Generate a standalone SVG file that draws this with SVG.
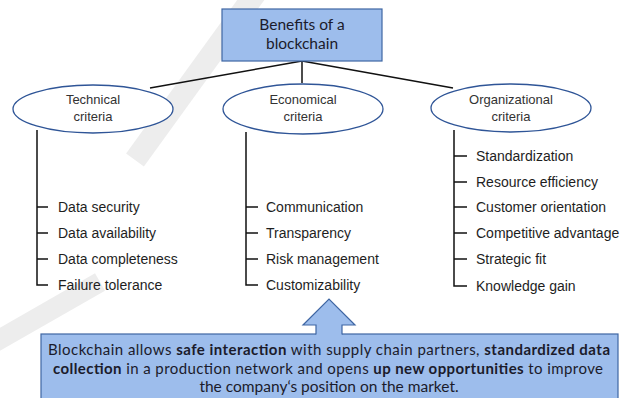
<svg xmlns="http://www.w3.org/2000/svg" width="630" height="398" viewBox="0 0 630 398">
<style>
.bg{fill:#ffffff}
.wm{fill:none;stroke:#ededed;stroke-linecap:butt}
.box{fill:#9dbdec;stroke:#3f66a3;stroke-width:1.2}
.ell{fill:#ffffff;stroke:#2f5597;stroke-width:1.3}
.con{fill:none;stroke:#111111;stroke-width:1.5}
.cal{font-family:Lato,"Open Sans","Liberation Sans",sans-serif;fill:#1b1b2b}
.t{font-family:"Liberation Sans",Arial,sans-serif;font-size:14px;fill:#1e1e1e}
.e{font-family:"Liberation Sans",Arial,sans-serif;font-size:13px;fill:#333333;text-anchor:middle}
.b{font-weight:bold}
</style>
<rect class="bg" x="0" y="0" width="630" height="398"/>
<g id="watermark">
<line class="wm" x1="258" y1="-10" x2="135" y2="160" stroke-width="22"/>
<line class="wm" x1="-10" y1="345" x2="100" y2="282" stroke-width="20"/>
</g>
<g id="connectors">
<line class="con" x1="302" y1="61" x2="150" y2="88"/>
<line class="con" x1="302" y1="61" x2="453" y2="88"/>
<line class="con" x1="302" y1="61" x2="302" y2="83"/>
<polyline class="con" points="37,130 37,285 48,285"/>
<line class="con" x1="37" y1="207" x2="48" y2="207"/>
<line class="con" x1="37" y1="233" x2="48" y2="233"/>
<line class="con" x1="37" y1="259" x2="48" y2="259"/>
<polyline class="con" points="246,132 246,285 258,285"/>
<line class="con" x1="246" y1="207" x2="258" y2="207"/>
<line class="con" x1="246" y1="233" x2="258" y2="233"/>
<line class="con" x1="246" y1="259" x2="258" y2="259"/>
<polyline class="con" points="454,130 454,286 467,286"/>
<line class="con" x1="454" y1="156" x2="467" y2="156"/>
<line class="con" x1="454" y1="182" x2="467" y2="182"/>
<line class="con" x1="454" y1="207" x2="467" y2="207"/>
<line class="con" x1="454" y1="233" x2="467" y2="233"/>
<line class="con" x1="454" y1="259" x2="467" y2="259"/>
</g>
<g id="root">
<rect class="box" x="222" y="9" width="160" height="52"/>
<text class="cal" x="302" y="30" font-size="15.5" text-anchor="middle">Benefits of a</text>
<text class="cal" x="302" y="49" font-size="15.5" text-anchor="middle">blockchain</text>
</g>
<g id="technical">
<ellipse class="ell" cx="93" cy="109" rx="80" ry="24"/>
<text class="e" x="93" y="104">Technical</text>
<text class="e" x="93" y="121">criteria</text>
</g>
<g id="economical">
<ellipse class="ell" cx="303" cy="109" rx="80" ry="25"/>
<text class="e" x="303" y="104">Economical</text>
<text class="e" x="303" y="121">criteria</text>
</g>
<g id="organizational">
<ellipse class="ell" cx="511" cy="108" rx="80" ry="24"/>
<text class="e" x="511" y="104">Organizational</text>
<text class="e" x="511" y="121">criteria</text>
</g>
<g id="technical-items">
<text class="t" x="58" y="212">Data security</text>
<text class="t" x="58" y="238">Data availability</text>
<text class="t" x="58" y="264">Data completeness</text>
<text class="t" x="58" y="290">Failure tolerance</text>
</g>
<g id="economical-items">
<text class="t" x="266" y="212">Communication</text>
<text class="t" x="266" y="238">Transparency</text>
<text class="t" x="266" y="264">Risk management</text>
<text class="t" x="266" y="290">Customizability</text>
</g>
<g id="organizational-items">
<text class="t" x="476" y="161">Standardization</text>
<text class="t" x="476" y="187">Resource efficiency</text>
<text class="t" x="476" y="212">Customer orientation</text>
<text class="t" x="476" y="238">Competitive advantage</text>
<text class="t" x="476" y="264">Strategic fit</text>
<text class="t" x="476" y="291">Knowledge gain</text>
</g>
<g id="summary">
<rect class="box" x="41" y="334" width="577" height="66"/>
<polygon points="329,299 355,325 342,325 342,335.5 316,335.5 316,325 303,325" fill="#9dbdec"/>
<polyline points="316,334.6 316,325 303,325 329,299 355,325 342,325 342,334.6" fill="none" stroke="#3f66a3" stroke-width="1.2"/>
<text class="cal" x="329" y="355" font-size="15" text-anchor="middle" textLength="562">Blockchain allows <tspan class="b">safe interaction</tspan> with supply chain partners, <tspan class="b">standardized data</tspan></text>
<text class="cal" x="328" y="374" font-size="15" text-anchor="middle" textLength="550">
<tspan class="b">collection</tspan> in a production network and opens <tspan class="b">up new opportunities</tspan> to improve</text>
<text class="cal" x="329" y="392" font-size="15.5" text-anchor="middle">the company‘s position on the market.</text>
</g>
</svg>
